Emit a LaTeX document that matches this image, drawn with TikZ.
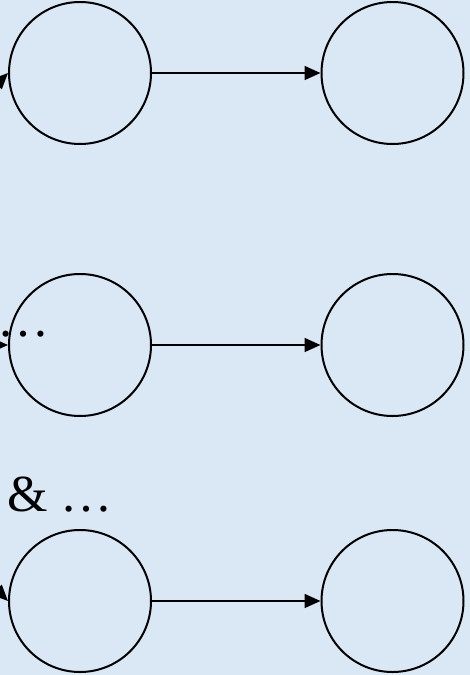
\documentclass[tikz,border=0pt]{standalone}
\usepackage{fontspec}
\setmainfont{Liberation Serif}
\usetikzlibrary{arrows.meta}
\definecolor{paleblue}{RGB}{218,232,246}
\begin{document}
\begin{tikzpicture}[x=1pt,y=-1pt,
    state/.style={draw, circle, line width=2pt, minimum size=142pt, inner sep=0pt},
    link/.style={line width=1.7pt, -{Triangle[length=16pt,width=14pt]}},
    bigtext/.style={font=\fontsize{52}{60}\selectfont, inner sep=0pt, anchor=base west}]
    % page
    \useasboundingbox [fill=paleblue] (0,0) rectangle (470,675);
    \clip (0,0) rectangle (470,675);
    % constants
    \def\leftX{80}
    \def\rightX{392.5}
    \def\rowA{73}
    \def\rowB{345}
    \def\rowC{601}
    % states
    \node [state] (a1) at (\leftX, \rowA) {};
    \node [state] (a2) at (\rightX, \rowA) {};
    \node [state] (b1) at (\leftX, \rowB) {};
    \node [state] (b2) at (\rightX, \rowB) {};
    \node [state] (c1) at (\leftX, \rowC) {};
    \node [state] (c2) at (\rightX, \rowC) {};
    % loose ends of incoming arrows
    \coordinate (inA) at (-32, \rowA+40);
    \coordinate (inB) at (-40, \rowB);
    \coordinate (inC) at (-32, \rowC-40);
    % texts
    \node [bigtext] (dotsB) at (-3, 336) {…};
    \node [bigtext] (dotsC) at (7, 511) {\& …};
    % arrows
    \draw [link] (inA) -- (a1.west);
    \draw [link] (inB) -- (b1.west);
    \draw [link] (inC) -- (c1.west);
    \draw [link] (a1) -- (a2);
    \draw [link] (b1) -- (b2);
    \draw [link] (c1) -- (c2);
\end{tikzpicture}
\end{document}
